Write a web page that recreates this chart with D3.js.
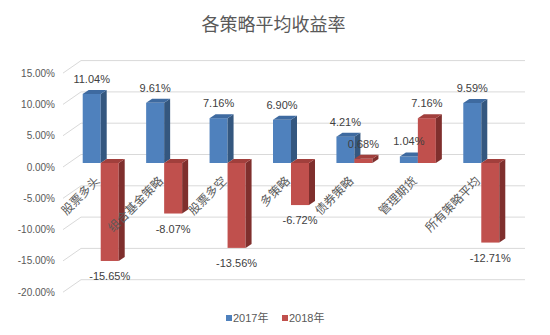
<!DOCTYPE html>
<html><head><meta charset="utf-8">
<script src="https://cdn.jsdelivr.net/npm/d3@7/dist/d3.min.js"></script>
<style>body{margin:0;background:#fff}svg{display:block}</style>
</head><body>
<svg id="chart" width="550" height="335"></svg>
<script>
const categories = ["股票多头","组合基金策略","股票多空","多策略","债券策略","管理期货","所有策略平均"];
const series2017 = [11.04, 9.61, 7.16, 6.90, 4.21, 1.04, 9.59];
const series2018 = [-15.65, -8.07, -13.56, -6.72, 0.68, 7.16, -12.71];
const seriesNames = ["2017年","2018年"];
const yTicks = [-20,-15,-10,-5,0,5,10,15];

const svg = d3.select("#chart");
const font = "'Liberation Sans','Noto Sans CJK SC',sans-serif";
svg.append("rect").attr("width",550).attr("height",335).attr("fill","#fff");

const y = d3.scaleLinear().domain([-20,15]).range([288.2,69.1]);
const x = d3.scaleBand().domain(categories).range([69,513]).padding(0);
const bw = x.bandwidth();
const sub = d3.scaleBand().domain(seriesNames).range([bw/2-18, bw/2+18]).padding(0);
const w = sub.bandwidth();
const dx = 6, dy = -4;

// gridlines (front slant + back wall)
const g = svg.append("g");
yTicks.forEach(t => {
  const yF = y(t)+4, yB = y(t)-8.5;
  g.append("polyline")
    .attr("points", `63,${yF} 81,${yB} 525,${yB}`)
    .attr("fill","none").attr("stroke","#D9D9D9").attr("stroke-width",1);
  g.append("text").attr("x",55).attr("y",yF).attr("text-anchor","end")
    .attr("dominant-baseline","central").attr("font-family",font)
    .attr("font-size",10).attr("fill","#595959")
    .text(t.toFixed(2)+"%");
});

const colors = {
  "2017年": {front:"#4F81BD", side:"#34577F", top:"#3E6AA0"},
  "2018年": {front:"#C0504D", side:"#7F2F2D", top:"#A13F3C"}
};

const bars = svg.append("g");
const labels = [];
categories.forEach((c,i) => {
  [[seriesNames[0], series2017[i]], [seriesNames[1], series2018[i]]].forEach(([s,v]) => {
    const x0 = x(c) + sub(s);
    const yT = y(Math.max(v,0)), yBt = y(Math.min(v,0));
    const col = colors[s];
    bars.append("rect").attr("x",x0).attr("y",yT).attr("width",w).attr("height",yBt-yT).attr("fill",col.front);
    bars.append("polygon")
      .attr("points",`${x0+w},${yT} ${x0+w+dx},${yT+dy} ${x0+w+dx},${yBt+dy} ${x0+w},${yBt}`)
      .attr("fill",col.side);
    bars.append("polygon")
      .attr("points",`${x0},${yT} ${x0+dx},${yT+dy} ${x0+w+dx},${yT+dy} ${x0+w},${yT}`)
      .attr("fill",col.top);
    labels.push({x:x0+w/2, y: v>=0 ? yT-11 : yBt+19, t: v.toFixed(2)+"%"});
  });
});

// category labels
categories.forEach(c => {
  const px = x(c) + bw/2 - 3, py = 179;
  svg.append("text").attr("transform",`translate(${px},${py}) rotate(-45)`)
    .attr("text-anchor","end").attr("dominant-baseline","central")
    .attr("font-family",font).attr("font-size",12).attr("fill","#595959").text(c);
});

// data labels
svg.append("g").selectAll("text").data(labels).join("text")
  .attr("x",d=>d.x).attr("y",d=>d.y).attr("text-anchor","middle")
  .attr("font-family",font).attr("font-size",11).attr("fill","#404040")
  .text(d=>d.t);

// title
svg.append("text").attr("x",273.5).attr("y",25).attr("text-anchor","middle")
  .attr("dominant-baseline","central").attr("font-family",font)
  .attr("font-size",18).attr("fill","#595959").text("各策略平均收益率");

// legend
const leg = [{n:seriesNames[0], x:226},{n:seriesNames[1], x:282}];
leg.forEach(l => {
  svg.append("rect").attr("x",l.x).attr("y",315).attr("width",6).attr("height",6).attr("fill",colors[l.n].front);
  svg.append("text").attr("x",l.x+7).attr("y",318).attr("dominant-baseline","central")
    .attr("font-family",font).attr("font-size",11).attr("fill","#595959").text(l.n);
});
</script>
</body></html>
